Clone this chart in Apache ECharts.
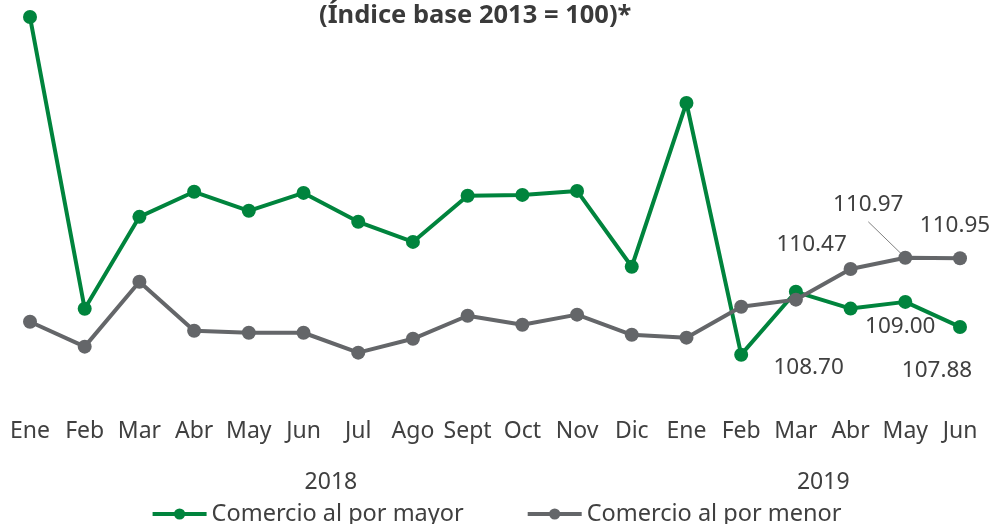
<!DOCTYPE html>
<html>
<head>
<meta charset="utf-8">
<script src="https://cdn.jsdelivr.net/npm/echarts@6/dist/echarts.min.js"></script>
<style>
  html, body { margin: 0; padding: 0; background: #fff; }
  #chart { width: 992px; height: 524px; }
</style>
</head>
<body>
<div id="chart"></div>
<script>
// datos
const months = ["Ene", "Feb", "Mar", "Abr", "May", "Jun", "Jul", "Ago", "Sept", "Oct", "Nov", "Dic",
                "Ene", "Feb", "Mar", "Abr", "May", "Jun"];
const years = ["2018", "2019"];
const yearStart = [0, 12];
const yearEnd = [11, 17];
const mayor = [121.73, 108.69, 112.80, 113.92, 113.07, 113.87, 112.58, 111.68, 113.74, 113.78, 113.96, 110.57,
               117.89, 106.64, 109.45, 108.70, 109.00, 107.88];
const menor = [108.11, 107.00, 109.90, 107.71, 107.62, 107.62, 106.73, 107.35, 108.38, 107.98, 108.43, 107.53,
               107.40, 108.78, 109.10, 110.47, 110.97, 110.95];

const green = "#00843d";
const gray = "#646669";
const textColor = "#404040";
const font = "Noto Sans";

// etiquetas visibles: indice -> desplazamiento
const mayorLabels = { 15: [-42, 59], 16: [-5, 25], 17: [-23, 44] };
const menorLabels = { 15: [-39, -24], 16: [-37, -53], 17: [-5, -33] };

function withLabels(values, labels) {
  return values.map((v, i) => {
    if (!labels[i]) return v;
    return {
      value: v,
      label: {
        show: true,
        position: "inside",
        offset: labels[i],
        formatter: (p) => p.value.toFixed(2),
        color: textColor,
        fontSize: 22.5,
        fontFamily: font,
      },
    };
  });
}

const chart = echarts.init(document.getElementById("chart"));
const options = {
  animation: false,
  textStyle: { fontFamily: font },
  grid: { left: 30, right: 32, top: 11, height: 358 },
  xAxis: {
    type: "category",
    data: months,
    boundaryGap: false,
    axisLine: { show: false },
    axisTick: { show: false },
    axisLabel: { color: textColor, fontSize: 23, margin: 51, interval: 0, fontFamily: font },
  },
  yAxis: {
    type: "value",
    min: 106,
    max: 122,
    show: false,
    splitLine: { show: false },
  },
  legend: {
    top: 497,
    left: "center",
    itemWidth: 54,
    itemHeight: 14,
    itemGap: 62,
    lineStyle: { width: 4 },
    textStyle: { color: textColor, fontSize: 23.5, fontFamily: font },
    data: ["Comercio al por mayor", "Comercio al por menor"],
  },
  series: [
    {
      name: "Comercio al por mayor",
      type: "line",
      data: withLabels(mayor, mayorLabels),
      symbol: "circle",
      symbolSize: 14,
      lineStyle: { color: green, width: 4 },
      itemStyle: { color: green },
      label: { show: false },
      z: 3,
    },
    {
      name: "Comercio al por menor",
      type: "line",
      data: withLabels(menor, menorLabels),
      symbol: "circle",
      symbolSize: 14,
      lineStyle: { color: gray, width: 4 },
      itemStyle: { color: gray },
      label: { show: false },
      z: 4,
    },
  ],
};
chart.setOption(options);

// titulo, años y linea guia
const graphics = [
  {
    type: "text",
    left: 319,
    top: 3,
    style: {
      text: "(Índice base 2013 = 100)*",
      fill: "#3a3a3a",
      font: "bold 25.5px 'Noto Sans'",
    },
  },
];
years.forEach((y, i) => {
  const x0 = chart.convertToPixel({ xAxisIndex: 0 }, yearStart[i]);
  const x1 = chart.convertToPixel({ xAxisIndex: 0 }, yearEnd[i]);
  graphics.push({
    type: "text",
    x: (x0 + x1) / 2,
    y: 482,
    style: {
      text: y,
      fill: textColor,
      font: "23px 'Noto Sans'",
      textAlign: "center",
      textVerticalAlign: "middle",
    },
  });
});
const pt = chart.convertToPixel({ seriesIndex: 1 }, [16, menor[16]]);
graphics.push({
  type: "line",
  shape: { x1: pt[0] + menorLabels[16][0], y1: pt[1] + menorLabels[16][1] + 17, x2: pt[0] - 3, y2: pt[1] - 3 },
  style: { stroke: "#808080", lineWidth: 1 },
  z: 1,
});
chart.setOption({ graphic: graphics });

window.addEventListener("resize", () => {
  chart.resize();
});
</script>
</body>
</html>
